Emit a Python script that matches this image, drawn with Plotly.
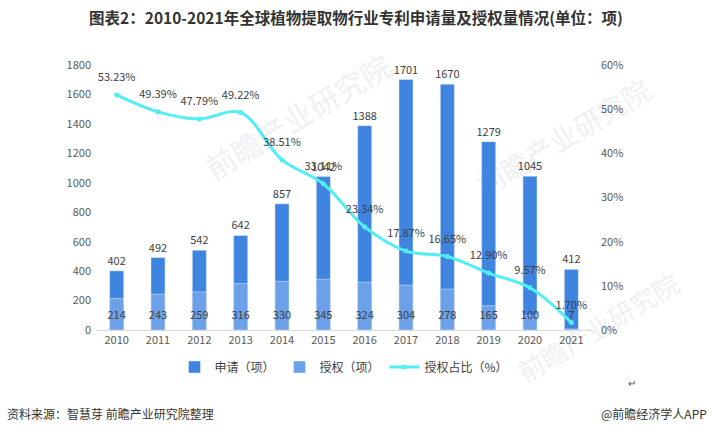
import plotly.graph_objects as go

years = ["2010", "2011", "2012", "2013", "2014", "2015", "2016", "2017", "2018", "2019", "2020", "2021"]
applications = [402, 492, 542, 642, 857, 1042, 1388, 1701, 1670, 1279, 1045, 412]
grants = [214, 243, 259, 316, 330, 345, 324, 304, 278, 165, 100, 7]
grant_ratio = [53.23, 49.39, 47.79, 49.22, 38.51, 33.11, 23.34, 17.87, 16.65, 12.90, 9.57, 1.70]

FONT = "Microsoft YaHei, Noto Sans CJK SC, sans-serif"
DARK = "#404040"
CYAN = "#52EEF6"

L, R, T, B = 96, 120, 65, 108
W, H = 712, 438
PW, PH = W - L - R, H - T - B


def px(x):
    return (x - L) / PW


def py(y):
    return (H - B - y) / PH


fig = go.Figure()
fig.add_trace(go.Bar(
    x=years, y=applications, name="申请（项）", marker_color="#3F85E0",
    width=0.34, text=[str(v) for v in applications], textposition="outside",
    constraintext="none", cliponaxis=False,
    textfont=dict(size=11, color=DARK, family=FONT),
))
fig.add_trace(go.Bar(
    x=years, y=grants, name="授权（项）", marker_color="#6CA1EA",
    width=0.34,
))
fig.add_trace(go.Scatter(
    x=years, y=[0] * len(years), mode="markers+text", text=[str(v) for v in grants],
    marker=dict(size=12, opacity=0), textposition="top center",
    showlegend=False, hoverinfo="skip", cliponaxis=False,
    textfont=dict(size=11, color=DARK, family=FONT),
))
fig.add_trace(go.Scatter(
    x=years, y=[v / 100 for v in grant_ratio], name="授权占比（%）", yaxis="y2",
    mode="lines+markers", line=dict(color=CYAN, width=3, shape="spline", smoothing=1),
    marker=dict(size=5, color=CYAN),
))
fig.add_trace(go.Scatter(
    x=years, y=[v / 100 for v in grant_ratio], yaxis="y2", mode="markers+text",
    marker=dict(size=16, opacity=0), showlegend=False, hoverinfo="skip",
    text=[f"{v:.2f}%" for v in grant_ratio], textposition="top center",
    textfont=dict(size=11, color=DARK, family=FONT), cliponaxis=False,
))

fig.update_layout(
    width=W, height=H,
    margin=dict(l=L, r=R, t=T, b=B, autoexpand=False),
    paper_bgcolor="white", plot_bgcolor="rgba(0,0,0,0)",
    barmode="overlay",
    font=dict(family=FONT, size=11, color="#595959"),
    title=dict(text="<b>图表2：2010-2021年全球植物提取物行业专利申请量及授权量情况(单位：项)</b>",
               x=0.5, xanchor="center", y=1 - 19 / H, yanchor="middle",
               font=dict(size=15.5, color="#333333", family=FONT)),
    xaxis=dict(range=[-0.5, 11.5], showgrid=False, showline=True, linecolor="#D9D9D9", linewidth=1,
               ticks="", tickfont=dict(size=11, color="#595959"), automargin=False),
    yaxis=dict(range=[0, 1800], dtick=200, showgrid=False, zeroline=False, automargin=False,
               showline=False, ticks="", ticklabelstandoff=4,
               tickfont=dict(size=11, color="#595959")),
    yaxis2=dict(range=[0, 0.6], dtick=0.1, tickformat=".0%", overlaying="y", side="right",
                showgrid=False, zeroline=False, showline=False, ticks="", automargin=False,
                ticklabelstandoff=8, tickfont=dict(size=11, color="#595959")),
    legend=dict(orientation="h", x=0.5, xanchor="center", yref="container",
                y=1 - 367 / H, yanchor="middle",
                font=dict(size=12, color="#404040"), itemwidth=30),
    showlegend=True,
)

# faint watermarks drawn below the traces
for (cx, cy, s) in [(300, 120, 30), (565, 140, 28), (600, 330, 26)]:
    fig.add_shape(type="rect", xref="paper", yref="paper",
                  x0=px(cx - 5), x1=px(cx + 5), y0=py(cy + 5), y1=py(cy - 5),
                  line=dict(width=0), fillcolor="rgba(0,0,0,0)", layer="below",
                  label=dict(text="前瞻产业研究院", textangle=-31, textposition="middle center",
                             font=dict(size=s, color="#EEF0F3", family=FONT)))

fig.add_annotation(text="资料来源：智慧芽 前瞻产业研究院整理", xref="paper", yref="paper",
                   x=px(5), y=py(413), xanchor="left", yanchor="middle", showarrow=False,
                   font=dict(size=12, color="#333333", family=FONT))
fig.add_annotation(text="@前瞻经济学人APP", xref="paper", yref="paper",
                   x=px(709), y=py(413), xanchor="right", yanchor="middle", showarrow=False,
                   font=dict(size=12, color="#333333", family=FONT))
fig.add_annotation(text="↵", xref="paper", yref="paper",
                   x=px(632), y=py(382), xanchor="center", yanchor="middle", showarrow=False,
                   font=dict(size=10, color="#555555", family=FONT))

fig.write_html("out.html", post_script="document.body.style.margin='0';",
               config={"displayModeBar": False})
